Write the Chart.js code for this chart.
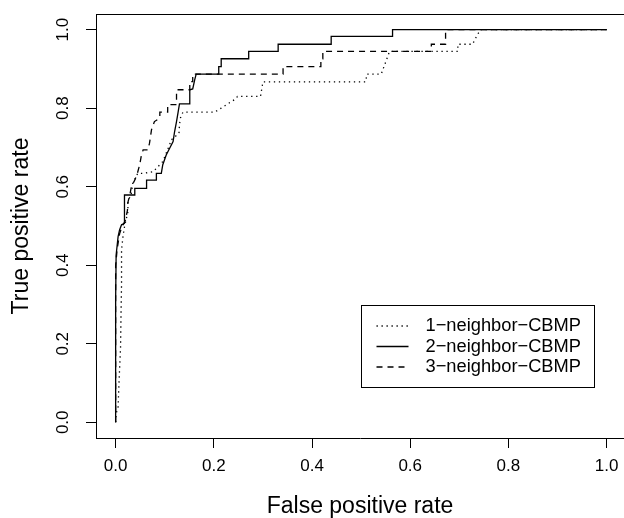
<!DOCTYPE html>
<html><head><meta charset="utf-8">
<script src="https://cdn.jsdelivr.net/npm/chart.js@4"></script>
<style>html,body{margin:0;padding:0;background:#fff;overflow:hidden}#wrap{width:624px;height:518px;position:relative}</style>
</head><body><div id="wrap"><canvas id="c" width="624" height="518"></canvas></div>
<script>
const seriesNames = ['1\u2212neighbor\u2212CBMP', '2\u2212neighbor\u2212CBMP', '3\u2212neighbor\u2212CBMP'];
const xTitle = 'False positive rate';
const yTitle = 'True positive rate';
const xTicks = [0, 0.2, 0.4, 0.6, 0.8, 1.0];
const yTicks = [0, 0.2, 0.4, 0.6, 0.8, 1.0];

// 1-neighbor (dotted)
const fpr1 = [0, 0.001, 0.005, 0.007, 0.010, 0.011, 0.012, 0.012, 0.015, 0.018, 0.022, 0.025, 0.025, 0.032, 0.035, 0.045, 0.056, 0.076, 0.090, 0.096, 0.110, 0.113, 0.129, 0.130, 0.132, 0.137, 0.202, 0.246, 0.248, 0.295, 0.300, 0.509, 0.512, 0.541, 0.558, 0.697, 0.697, 0.727, 0.735, 0.743, 1];
const tpr1 = [0, 0.022, 0.039, 0.107, 0.192, 0.278, 0.350, 0.439, 0.473, 0.498, 0.520, 0.536, 0.562, 0.583, 0.609, 0.634, 0.634, 0.638, 0.656, 0.664, 0.707, 0.719, 0.736, 0.758, 0.775, 0.790, 0.790, 0.825, 0.830, 0.830, 0.867, 0.867, 0.887, 0.887, 0.945, 0.945, 0.963, 0.963, 0.983, 1.0, 1];
// 2-neighbor (solid)
const fpr2 = [0, 0, 0.001, 0.005, 0.008, 0.012, 0.018, 0.018, 0.039, 0.039, 0.063, 0.063, 0.083, 0.083, 0.093, 0.096, 0.103, 0.110, 0.117, 0.120, 0.124, 0.127, 0.130, 0.151, 0.151, 0.157, 0.161, 0.164, 0.210, 0.210, 0.215, 0.215, 0.271, 0.271, 0.331, 0.331, 0.439, 0.439, 0.564, 0.564, 1];
const tpr2 = [0, 0.311, 0.426, 0.473, 0.490, 0.503, 0.507, 0.579, 0.579, 0.596, 0.596, 0.617, 0.617, 0.634, 0.634, 0.656, 0.681, 0.698, 0.715, 0.740, 0.766, 0.788, 0.811, 0.811, 0.847, 0.849, 0.872, 0.887, 0.887, 0.906, 0.906, 0.926, 0.926, 0.945, 0.945, 0.963, 0.963, 0.983, 0.983, 1, 1];
// 3-neighbor (dashed)
const fpr3 = [0, 0, 0.003, 0.008, 0.012, 0.020, 0.024, 0.025, 0.029, 0.032, 0.039, 0.044, 0.049, 0.052, 0.056, 0.066, 0.069, 0.073, 0.079, 0.090, 0.090, 0.106, 0.106, 0.124, 0.124, 0.151, 0.151, 0.157, 0.157, 0.341, 0.341, 0.418, 0.418, 0.422, 0.422, 0.643, 0.643, 0.672, 0.672, 1];
const tpr3 = [0, 0.400, 0.440, 0.480, 0.495, 0.515, 0.540, 0.560, 0.580, 0.600, 0.617, 0.633, 0.656, 0.677, 0.694, 0.694, 0.711, 0.745, 0.766, 0.775, 0.790, 0.790, 0.809, 0.809, 0.847, 0.847, 0.868, 0.868, 0.887, 0.887, 0.906, 0.906, 0.926, 0.926, 0.945, 0.945, 0.963, 0.963, 1, 1];

const zip = (xs, ys) => xs.map((x, i) => ({x: x, y: ys[i]}));
const dashes = [[1.3, 3.7], [], [6, 5]];
const FONT = '"Liberation Sans", Arial, Helvetica, sans-serif';

const boxPlugin = {
  id: 'rbox',
  afterDraw(chart) {
    const ctx = chart.ctx, a = chart.chartArea;
    ctx.save();
    ctx.strokeStyle = '#000'; ctx.lineWidth = 1;
    ctx.beginPath();
    ctx.moveTo(a.left, a.top + 0.5); ctx.lineTo(a.right, a.top + 0.5);
    ctx.stroke();
    // legend anchored at data (0.5, 0.3), like R legend(x, y)
    const xs = chart.scales.x, ys = chart.scales.y;
    const bx = Math.round(xs.getPixelForValue(0.5)) + 0.5;
    const by = Math.round(ys.getPixelForValue(0.3)) + 0.5;
    const bw = 233, bh = 82;
    ctx.strokeRect(bx, by, bw, bh);
    ctx.font = '18.3px ' + FONT;
    ctx.fillStyle = '#000';
    ctx.textBaseline = 'middle';
    ctx.textAlign = 'left';
    const rows = [20.5, 41, 61.5];
    seriesNames.forEach((name, i) => {
      const y = by + rows[i];
      ctx.setLineDash(dashes[i]);
      ctx.lineWidth = 1.3;
      ctx.beginPath();
      ctx.moveTo(bx + 15, y); ctx.lineTo(bx + 47, y);
      ctx.stroke();
      ctx.setLineDash([]);
      ctx.fillText(name, bx + 64, y);
    });
    ctx.restore();
  }
};

const ds = [zip(fpr1, tpr1), zip(fpr2, tpr2), zip(fpr3, tpr3)].map((d, i) => ({
  label: seriesNames[i], data: d, borderColor: '#000', borderWidth: 1.3,
  borderDash: dashes[i], pointRadius: 0, tension: 0, fill: false
}));

new Chart(document.getElementById('c'), {
  type: 'line',
  data: {datasets: ds},
  options: {
    responsive: false, animation: false,
    layout: {padding: {top: 14, right: 0, left: 0, bottom: 0}},
    plugins: {legend: {display: false}, tooltip: {enabled: false}},
    scales: {
      x: {
        type: 'linear', min: -0.04, max: 1.0354,
        afterBuildTicks: s => { s.ticks = xTicks.map(v => ({value: v})); },
        afterFit: s => { s.height = 80; s.paddingLeft = 0; s.paddingRight = 0; },
        grid: {drawOnChartArea: false, drawTicks: true, tickLength: 10, color: '#000', lineWidth: 1},
        border: {display: true, color: '#000', width: 1},
        ticks: {color: '#000', font: {family: FONT, size: 17}, padding: 8, maxRotation: 0,
                callback: v => v.toFixed(1)},
        title: {display: true, text: xTitle, color: '#000', font: {family: FONT, size: 23, lineHeight: 1}, padding: {top: 0, bottom: 0}}
      },
      y: {
        type: 'linear', min: -0.04, max: 1.04,
        afterBuildTicks: s => { s.ticks = yTicks.map(v => ({value: v})); },
        afterFit: s => { s.width = 96; s.paddingTop = 0; s.paddingBottom = 0; },
        grid: {drawOnChartArea: false, drawTicks: true, tickLength: 10, color: '#000', lineWidth: 1},
        border: {display: true, color: '#000', width: 1},
        ticks: {color: '#000', font: {family: FONT, size: 17}, padding: 11, minRotation: 90, maxRotation: 90,
                crossAlign: 'center', callback: v => v.toFixed(1)},
        title: {display: true, text: yTitle, color: '#000', font: {family: FONT, size: 23, lineHeight: 1}, padding: {top: 10, bottom: 0}}
      }
    }
  },
  plugins: [boxPlugin]
});
</script></body></html>
